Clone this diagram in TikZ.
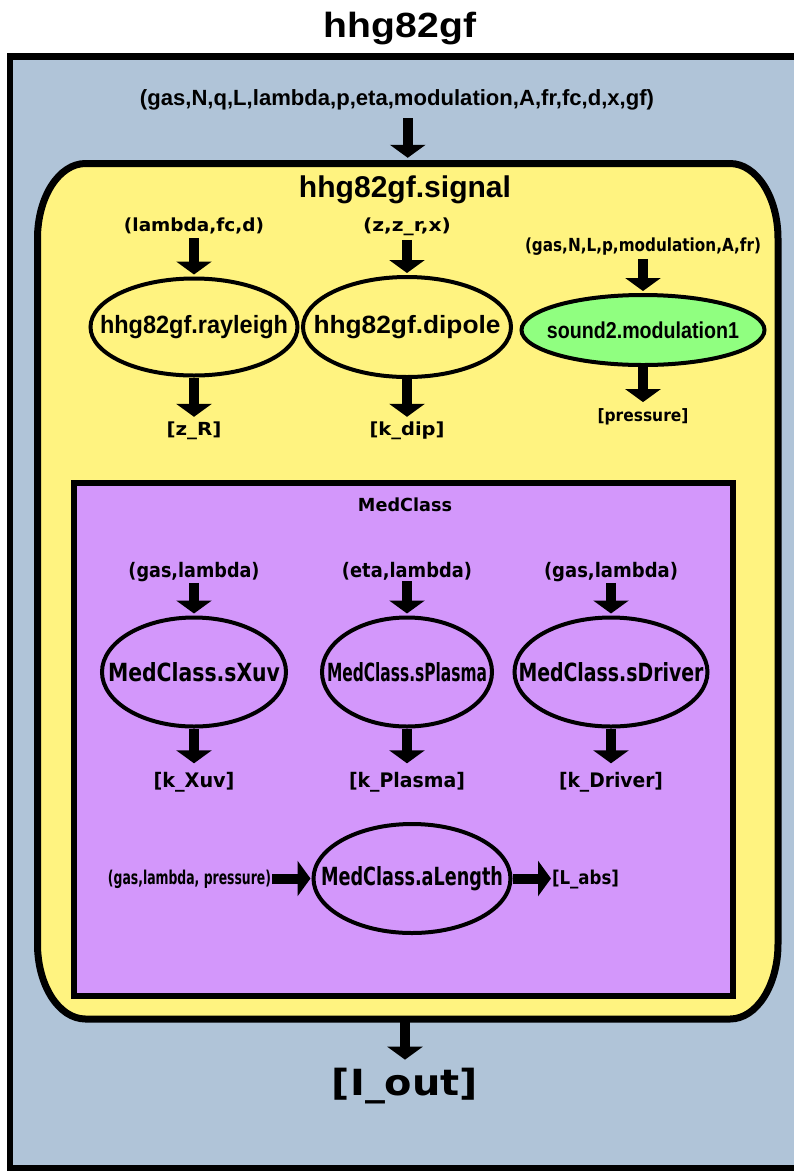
\documentclass[tikz,border=0pt]{standalone}
\usepackage{fontspec}
\setmainfont{Liberation Sans}
\newfontfamily\dv{DejaVu Sans}
\usepackage{graphicx}
\usetikzlibrary{shapes.geometric,arrows.meta}
\definecolor{outerblue}{RGB}{176,196,216}
\definecolor{sigyellow}{RGB}{255,243,128}
\definecolor{modgreen}{RGB}{144,255,128}
\definecolor{medpurple}{RGB}{211,151,251}
\newcommand\fw[2]{\resizebox{#1pt}{\height}{#2}}
\newcommand\ew[2]{\makebox[0pt]{\resizebox{#1pt}{\height}{#2}}}
\newcommand\fsz[1]{\fontsize{#1}{#1}\selectfont}
\tikzset{
  txt/.style={inner sep=0pt, outer sep=0pt, anchor=base},
  arr/.style={line width=10pt, -{Triangle[width=35pt,length=13pt]}},
  ell/.style={ellipse, draw, line width=4pt, inner sep=0pt},
  hv/.style={font=\bfseries},
  dvb/.style={font=\dv\bfseries},
  crn/.style={x radius=48pt, y radius=75pt},
}
\begin{document}
\begin{tikzpicture}[x=1pt,y=-1pt]
\useasboundingbox (0,0) rectangle (794,1171);
\clip (0,0) rectangle (794,1171);
% containers
\node[draw, line width=6.5pt, fill=outerblue, minimum width=830pt, minimum height=1111.5pt, inner sep=0pt] (outer) at (425,612.25) {};
\draw[line width=7pt, fill=sigyellow]
  (37.5,238.5) arc[start angle=180, end angle=90, crn]
  -- (730,163.5) arc[start angle=90, end angle=0, crn]
  -- (778,944) arc[start angle=0, end angle=-90, crn]
  -- (85.5,1019) arc[start angle=270, end angle=180, crn]
  -- cycle;
\node[minimum width=740.5pt, minimum height=855.5pt, inner sep=0pt] (sig) at (407.75,591.25) {};
\node[draw, line width=6pt, fill=medpurple, minimum width=659.5pt, minimum height=513.5pt, inner sep=0pt] (med) at (403.25,739.25) {};
% titles
\node[txt, hv] (title) at (400,37) {\fsz{35}\fw{152}{hhg82gf}};
\node[txt, hv] (topin) at (397,105.5) {\fsz{22}\fw{514}{(gas,N,q,L,lambda,p,eta,modulation,A,fr,fc,d,x,gf)}};
\node[txt, hv] (sigt) at (405,197) {\fsz{30}\fw{212}{hhg82gf.signal}};
\node[txt, dvb] (medt) at (405,511) {\fsz{18}\fw{94}{MedClass}};
% ellipses
\node[ell, fill=sigyellow, minimum width=207pt, minimum height=97pt, hv] (ray) at (194,327) {\fsz{25}\ew{188}{hhg82gf.rayleigh}};
\node[ell, fill=sigyellow, minimum width=208pt, minimum height=100pt, hv] (dip) at (407,327) {\fsz{25}\ew{187}{hhg82gf.dipole}};
\node[ell, fill=modgreen, minimum width=243pt, minimum height=70pt, hv] (mod) at (643,330) {\fsz{23}\ew{192}{sound2.modulation1}};
\node[ell, fill=medpurple, minimum width=184pt, minimum height=109pt, dvb] (xuv) at (194,672) {\fsz{25}\ew{172}{MedClass.sXuv}};
\node[ell, fill=medpurple, minimum width=170pt, minimum height=109pt, dvb] (pla) at (407,672) {\fsz{25}\ew{160}{MedClass.sPlasma}};
\node[ell, fill=medpurple, minimum width=193pt, minimum height=109pt, dvb] (drv) at (611,672) {\fsz{25}\ew{185}{MedClass.sDriver}};
\node[ell, fill=medpurple, minimum width=197pt, minimum height=109pt, dvb] (alen) at (412,878.5) {\fsz{25}\ew{182}{MedClass.aLength}};
% labels
\node[txt, dvb] (inA) at (194,231) {\fsz{18}\fw{140}{(lambda,fc,d)}};
\node[txt, dvb] (inB) at (407,231) {\fsz{18}\fw{88}{(z,z\_r,x)}};
\node[txt, dvb] (inC) at (643,251) {\fsz{18}\fw{236}{(gas,N,L,p,modulation,A,fr)}};
\node[txt, dvb] (outA) at (194,435.5) {\fsz{18}\fw{55}{[z\_R]}};
\node[txt, dvb] (outB) at (407,435.5) {\fsz{18}\fw{75}{[k\_dip]}};
\node[txt, dvb] (outC) at (643,421) {\fsz{17}\fw{91}{[pressure]}};
\node[txt, dvb] (inD) at (194,577.5) {\fsz{20}\fw{131}{(gas,lambda)}};
\node[txt, dvb] (inE) at (407,577.5) {\fsz{20}\fw{130}{(eta,lambda)}};
\node[txt, dvb] (inF) at (611,577.5) {\fsz{20}\fw{134}{(gas,lambda)}};
\node[txt, dvb] (outD) at (194,787.5) {\fsz{20}\fw{81}{[k\_Xuv]}};
\node[txt, dvb] (outE) at (407,787.5) {\fsz{20}\fw{116}{[k\_Plasma]}};
\node[txt, dvb] (outF) at (611,787.5) {\fsz{20}\fw{104}{[k\_Driver]}};
\node[txt, dvb, anchor=base east] (inG) at (271,884) {\fsz{19}\fw{163}{(gas,lambda, pressure)}};
\node[txt, dvb, anchor=base west] (outG) at (552,884) {\fsz{19}\fw{67}{[L\_abs]}};
\node[txt, dvb] (iout) at (405,1095) {\fsz{36}\fw{146}{[I\_out]}};
% helper coordinates
\coordinate (sigtop) at ([yshift=5.5pt]sig.north);
\coordinate (topbelow) at ([yshift=-8pt]topin.south);
\coordinate (ioutabove) at ([yshift=8pt]iout.north);
\coordinate (lgleft) at ([xshift=-1pt]outG.west);
\coordinate (igright) at ([xshift=1pt]inG.east);
% connectors
\draw[arr] (topbelow -| sigtop) -- (sigtop);
\draw[arr] (sig.south -| ioutabove) -- (ioutabove);
\draw[arr] ([yshift=-4.5pt]inA.south) -- ([yshift=2pt]ray.north);
\draw[arr] ([yshift=-4.5pt]inB.south) -- ([yshift=2pt]dip.north);
\draw[arr] ([yshift=-4pt]inC.south) -- ([yshift=2pt]mod.north);
\draw[arr] (ray.south) -- ([yshift=5pt]outA.north);
\draw[arr] (dip.south) -- ([yshift=5pt]outB.north);
\draw[arr] (mod.south) -- ([yshift=6pt]outC.north);
\draw[arr] ([yshift=-1pt]inD.south) -- ([yshift=2pt]xuv.north);
\draw[arr] ([yshift=-1pt]inE.south) -- ([yshift=2pt]pla.north);
\draw[arr] ([yshift=-1pt]inF.south) -- ([yshift=2pt]drv.north);
\draw[arr] (xuv.south) -- ([yshift=9pt]outD.north);
\draw[arr] (pla.south) -- ([yshift=9pt]outE.north);
\draw[arr] (drv.south) -- ([yshift=9pt]outF.north);
\draw[arr] (igright |- alen.west) -- ([xshift=-1pt]alen.west);
\draw[arr] (alen.east) -- (alen.east -| lgleft);
\end{tikzpicture}
\end{document}
